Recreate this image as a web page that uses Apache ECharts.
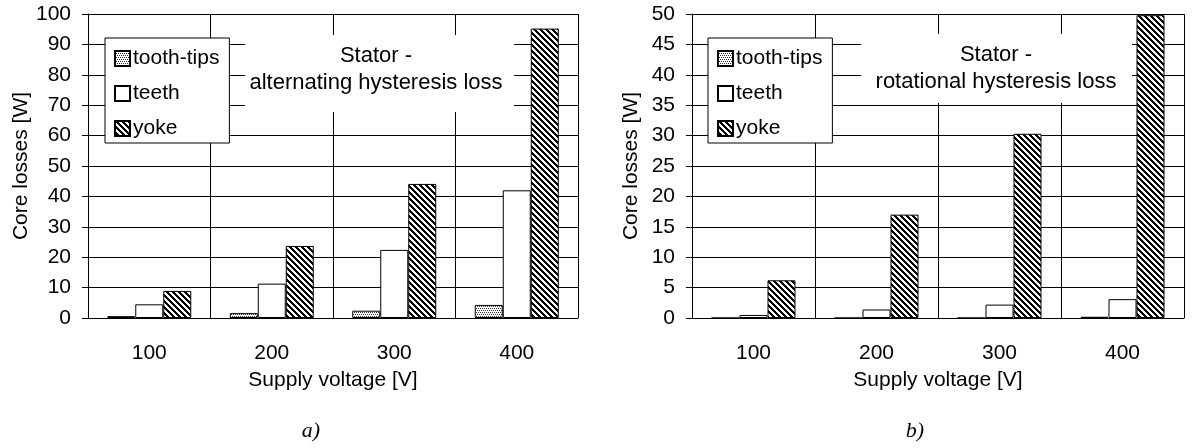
<!DOCTYPE html>
<html>
<head>
<meta charset="utf-8">
<script src="https://cdn.jsdelivr.net/npm/echarts@6/dist/echarts.min.js"></script>
<style>
  html, body { margin: 0; padding: 0; background: #fff; }
  #chart { width: 1192px; height: 448px; }
</style>
</head>
<body>
<div id="chart"></div>
<script>
// categories (supply voltage)
const voltages = ['100', '200', '300', '400']

// a) stator - alternating hysteresis loss
const toothTipsA = [0.6, 1.6, 2.4, 4.3]
const teethA = [4.5, 11.3, 22.4, 42]
const yokeA = [8.9, 23.7, 44.1, 95.2]

// b) stator - rotational hysteresis loss
const toothTipsB = [0, 0, 0, 0.2]
const teethB = [0.5, 1.4, 2.2, 3.1]
const yokeB = [6.2, 17, 30.3, 49.8]

const FONT = 'Liberation Sans'

// fill patterns
function dotPattern() {
  let c = document.createElement('canvas')
  c.width = 4; c.height = 4
  let g = c.getContext('2d')
  g.fillStyle = '#fff'; g.fillRect(0, 0, 4, 4)
  g.fillStyle = '#333'
  g.fillRect(0, 0, 1, 1); g.fillRect(2, 0, 1, 1)
  g.fillRect(1, 2, 1, 1); g.fillRect(3, 2, 1, 1)
  return { image: c, repeat: 'repeat' }
}
function stripePattern() {
  let c = document.createElement('canvas')
  c.width = 6; c.height = 6
  let g = c.getContext('2d')
  g.fillStyle = '#fff'; g.fillRect(0, 0, 6, 6)
  g.fillStyle = '#000'
  for (let x = 0; x < 6; x++) {
    for (let y = 0; y < 6; y++) {
      if (((x - y) % 6 + 6) % 6 < 3) g.fillRect(x, y, 1, 1)
    }
  }
  return { image: c, repeat: 'repeat' }
}
const dots = dotPattern()
const stripes = stripePattern()

function xAxisFor(idx) {
  return {
    type: 'category', gridIndex: idx, data: voltages,
    name: 'Supply voltage [V]', nameLocation: 'middle', nameGap: 52,
    nameTextStyle: { fontFamily: FONT, fontSize: 21, color: '#000' },
    axisLine: { lineStyle: { color: '#000', width: 1 } },
    axisTick: { length: 7, lineStyle: { color: '#000' } },
    axisLabel: { margin: 25, fontFamily: FONT, fontSize: 21, color: '#000' },
    splitLine: { show: true, lineStyle: { color: '#000', width: 1 } }
  }
}
function yAxisFor(idx, max, step, gap) {
  return {
    type: 'value', gridIndex: idx, min: 0, max: max, interval: step,
    name: 'Core losses [W]', nameLocation: 'middle', nameGap: gap,
    nameTextStyle: { fontFamily: FONT, fontSize: 21, color: '#000' },
    axisLine: { show: true, lineStyle: { color: '#000', width: 1 } },
    axisTick: { show: true, length: 6, lineStyle: { color: '#000' } },
    axisLabel: { margin: 17, fontFamily: FONT, fontSize: 21, color: '#000' },
    splitLine: { show: true, lineStyle: { color: '#000', width: 1 } }
  }
}
function barSeries(name, idx, data, color) {
  return {
    name: name, type: 'bar', xAxisIndex: idx, yAxisIndex: idx, data: data,
    barWidth: 28, barGap: '0%', animation: false,
    itemStyle: { color: color, borderColor: '#000', borderWidth: 1 }
  }
}
function legendFor(left) {
  return {
    orient: 'vertical', left: left, top: 38,
    data: ['tooth-tips', 'teeth', 'yoke'],
    backgroundColor: '#fff', borderColor: '#000', borderWidth: 1,
    padding: [10, 10, 4, 9], itemGap: 14, itemWidth: 15, itemHeight: 15,
    icon: 'rect', selectedMode: false,
    textStyle: { fontFamily: FONT, fontSize: 21, color: '#000', padding: [0, 0, 0, -2] }
  }
}
function noteBox(x, y, w, h, cx, text) {
  return [
    { type: 'rect', z: 5, shape: { x: x, y: y, width: w, height: h }, style: { fill: '#fff' } },
    { type: 'text', z: 6, x: cx, y: y + 7, style: {
      text: text, align: 'center', verticalAlign: 'top', lineHeight: 27,
      font: '22px "Liberation Sans"', fill: '#000' } }
  ]
}

let chart = echarts.init(document.getElementById('chart'))
chart.setOption({
  animation: false,
  grid: [
    { left: 88, top: 14, width: 490, height: 304 },
    { left: 692, top: 14, width: 492, height: 304 }
  ],
  xAxis: [xAxisFor(0), xAxisFor(1)],
  yAxis: [yAxisFor(0, 100, 10, 56), yAxisFor(1, 50, 5, 50)],
  legend: [legendFor(105), legendFor(708)],
  series: [
    barSeries('tooth-tips', 0, toothTipsA, dots),
    barSeries('teeth', 0, teethA, '#fff'),
    barSeries('yoke', 0, yokeA, stripes),
    barSeries('tooth-tips', 1, toothTipsB, dots),
    barSeries('teeth', 1, teethB, '#fff'),
    barSeries('yoke', 1, yokeB, stripes)
  ],
  graphic: [].concat(
    noteBox(245, 35, 269, 77, 376, 'Stator -\nalternating hysteresis loss'),
    noteBox(861, 34, 271, 69, 996, 'Stator -\nrotational hysteresis loss'),
    [
      { type: 'text', x: 311, y: 431, style: { text: 'a)', align: 'center', verticalAlign: 'middle',
        font: 'italic 22px "Liberation Serif"', fill: '#000' } },
      { type: 'text', x: 915, y: 431, style: { text: 'b)', align: 'center', verticalAlign: 'middle',
        font: 'italic 22px "Liberation Serif"', fill: '#000' } }
    ]
  )
})
</script>
</body>
</html>
